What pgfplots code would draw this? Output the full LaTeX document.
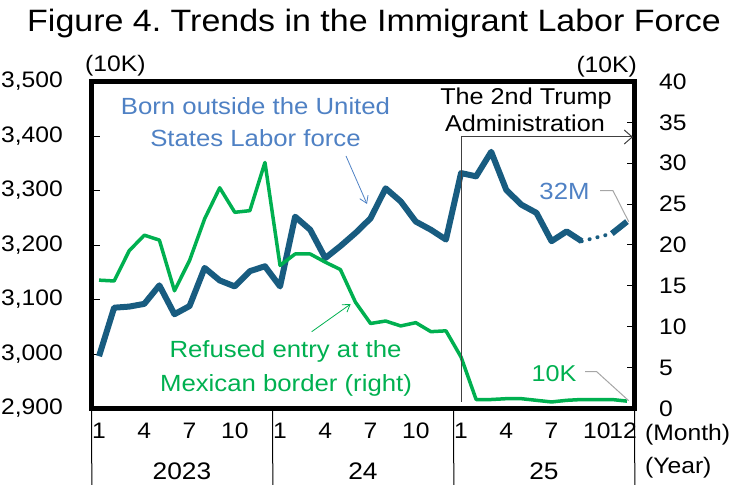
\documentclass[border=0pt]{standalone}
\usepackage{fontspec}
\setmainfont[FakeStretch=1.1]{Liberation Sans}
\usepackage{pgfplots}
\pgfplotsset{compat=1.18}
\usetikzlibrary{arrows.meta}
\definecolor{navy}{RGB}{24,92,128}
\definecolor{xgreen}{RGB}{0,176,80}
\definecolor{lblue}{RGB}{79,129,196}
\definecolor{leader}{RGB}{166,166,166}
\definecolor{tline}{RGB}{64,64,64}
\newcommand{\fs}[1]{\fontsize{#1}{#1}\selectfont}
\frenchspacing
\begin{document}
\begin{tikzpicture}
\useasboundingbox (0,0) rectangle (731bp,485bp);
\begin{axis}[
  at={(91.5bp,76.5bp)}, anchor=south west, scale only axis,
  width=543bp, height=327bp,
  xmin=-0.5, xmax=35.5, ymin=2900, ymax=3500,
  axis line style={draw=none},
  xtick={0,3,6,9,12,15,18,21,24,27,30,33,34.75},
  xticklabels={1,4,7,10,1,4,7,10,1,4,7,10,12},
  x tick style={draw=none},
  ytick={2900,3000,...,3500},
  ytick pos=left, tick align=inside,
  y tick style={black, line width=1bp},
  major tick length=8bp,
  scaled y ticks=false,
  /pgf/number format/assume math mode=true,
  /pgf/number format/1000 sep={,},
  yticklabel style={anchor=east, inner sep=0pt, xshift=-28.5bp, font=\fs{22.5}},
  xticklabel style={anchor=north, inner sep=0pt, yshift=-14.5bp, font=\fs{22.5}},
  clip=false,
]
\addplot[navy, line width=6bp, line join=round, mark=none] coordinates {
(0,2996)(1,3085)(2,3087)(3,3092)(4,3126)(5,3073)(6,3088)(7,3158)(8,3135)(9,3124)
(10,3152)(11,3161)(12,3124)(13,3252)(14,3228)(15,3176)(16,3198)(17,3222)(18,3249)
(19,3304)(20,3280)(21,3243)(22,3228)(23,3210)(24,3332)(25,3326)(26,3371)(27,3301)
(28,3274)(29,3259)(30,3207)(31,3225)(32,3207)};
\addplot[navy, line width=4bp, line cap=round, dash pattern=on 0.1bp off 8bp, mark=none] coordinates {(32,3207)(34,3221)};
\addplot[navy, line width=6bp, mark=none] coordinates {(34,3221)(35,3243)};
\draw[black, line width=1bp] (axis cs:-0.5,2900) -- ++(0,-76.5bp);
\draw[black, line width=1bp] (axis cs:11.5,2900) -- ++(0,-76.5bp);
\draw[black, line width=1bp] (axis cs:23.5,2900) -- ++(0,-76.5bp);
\draw[black, line width=1bp] (axis cs:35.5,2900) -- ++(0,-76.5bp);
\node[font=\fs{24}] at (axis cs:5.5,2900) [yshift=-63bp] {2023};
\node[font=\fs{24}] at (axis cs:17.5,2900) [yshift=-63bp] {24};
\node[font=\fs{24}] at (axis cs:29.5,2900) [yshift=-63bp] {25};
\node[font=\fs{22.5}, anchor=west, inner sep=0pt] at (rel axis cs:1,0) [xshift=10.5bp, yshift=-26.5bp] {(Month)};
\node[font=\fs{22.5}, anchor=west, inner sep=0pt] at (rel axis cs:1,0) [xshift=10.5bp, yshift=-59.5bp] {(Year)};
\end{axis}
\begin{axis}[
  at={(91.5bp,76.5bp)}, anchor=south west, scale only axis,
  width=543bp, height=327bp,
  xmin=-0.5, xmax=35.5, ymin=0, ymax=40,
  axis line style={draw=none},
  xtick=\empty,
  ytick={0,5,...,40},
  ytick pos=right, yticklabel pos=right, tick align=inside,
  y tick style={black, line width=1bp},
  major tick length=8bp,
  /pgf/number format/assume math mode=true,
  yticklabel style={anchor=west, inner sep=0pt, xshift=24.5bp, font=\fs{22.5}},
  clip=false,
]
\addplot[xgreen, line width=3.5bp, line join=round, mark=none] coordinates {
(0,15.7)(1,15.6)(2,19.3)(3,21.2)(4,20.6)(5,14.4)(6,18.1)(7,23.2)(8,27.0)(9,24.0)
(10,24.2)(11,30.1)(12,17.5)(13,18.9)(14,18.9)(15,17.9)(16,17.0)(17,13.0)(18,10.4)
(19,10.7)(20,10.1)(21,10.5)(22,9.4)(23,9.5)(24,6.3)(25,1.1)(26,1.1)(27,1.2)(28,1.2)
(29,1.0)(30,0.8)(31,1.0)(32,1.1)(33,1.1)(34,1.1)(35,0.9)};
\draw[black, line width=5bp] (rel axis cs:0,0) rectangle (rel axis cs:1,1);
\end{axis}
\begin{scope}[shift={(0,485bp)}, x=1bp, y=-1bp]
\node[anchor=base, font=\fs{31}] at (374,32) {Figure 4. Trends in the Immigrant Labor Force};
\node[anchor=base west, inner sep=0pt, font=\fs{22.5}] at (85,72) {(10K)};
\node[anchor=base east, inner sep=0pt, font=\fs{22.5}] at (637,73) {(10K)};
\node[anchor=base, lblue, font=\fs{23.5}] at (255.5,115) {Born outside the United};
\node[anchor=base, lblue, font=\fs{23.5}] at (255.5,147) {States Labor force};
\draw[lblue, line width=0.8bp, -{Straight Barb[length=7bp,width=9bp]}] (346,156) -- (367,204);
\node[anchor=base, xgreen, font=\fs{23.5}] at (285.5,358) {Refused entry at the};
\node[anchor=base, xgreen, font=\fs{23.5}] at (286,391.7) {Mexican border (right)};
\draw[xgreen, line width=0.8bp, -{Straight Barb[length=7bp,width=9bp]}] (311.7,331.7) -- (350.7,304);
\node[anchor=base, font=\fs{23}] at (526,105) {The 2nd Trump};
\node[anchor=base, font=\fs{23}] at (525,131.7) {Administration};
\draw[tline, line width=1bp, -{Straight Barb[length=8bp,width=14bp]}] (461,402) -- (461,137) -- (633,137);
\node[anchor=base, lblue, font=\fs{23.5}] at (564.5,200) {32M};
\draw[leader, line width=1bp] (600,190.7) -- (613,190.7) -- (628.7,221.7);
\node[anchor=base, xgreen, font=\fs{23}] at (554,381.7) {10K};
\draw[leader, line width=1bp] (585,371.7) -- (596.7,371.7) -- (628.7,400.7);
\end{scope}
\end{tikzpicture}
\end{document}
